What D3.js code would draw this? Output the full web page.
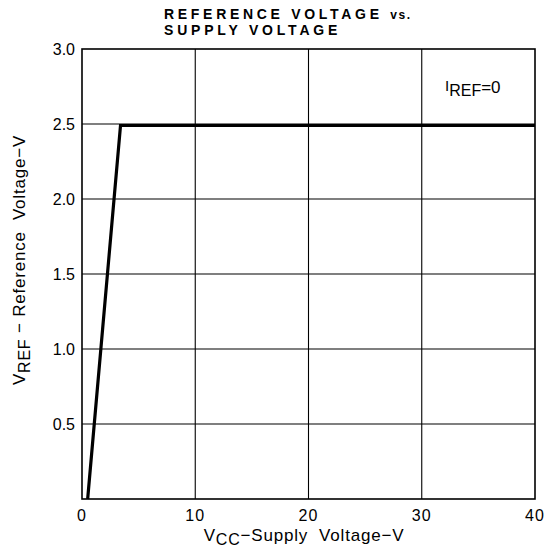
<!DOCTYPE html>
<html>
<head>
<meta charset="utf-8">
<style>
  * { margin: 0; padding: 0; }
  body { background: #fff; font-family: "Liberation Sans", Arial, sans-serif; }
  svg { display: block; }
</style>
</head>
<body>
<div id="chart"></div>
<script src="https://cdn.jsdelivr.net/npm/d3@7"></script>
<script>
// curve: VREF vs VCC, IREF = 0
const vcc = [0.5, 3.4, 10, 20, 30, 40];
const vref = [0, 2.49, 2.49, 2.49, 2.49, 2.49];
const xTicks = [0, 10, 20, 30, 40];
const yTicks = [0.5, 1.0, 1.5, 2.0, 2.5, 3.0];

const width = 552, height = 554;
const margin = { top: 49, right: 17, bottom: 55, left: 82 };

const x = d3.scaleLinear().domain([0, 40]).range([margin.left, width - margin.right]);
const y = d3.scaleLinear().domain([0, 3]).range([height - margin.bottom, margin.top]);

const svg = d3.select('#chart').append('svg')
  .attr('width', width).attr('height', height);

// grid
svg.append('g')
  .selectAll('line')
  .data(xTicks.slice(1, -1))
  .join('line')
  .attr('x1', d => x(d)).attr('x2', d => x(d))
  .attr('y1', y(0)).attr('y2', y(3))
  .attr('stroke', '#000').attr('stroke-width', 1.1);
svg.append('g')
  .selectAll('line')
  .data(yTicks.slice(0, -1))
  .join('line')
  .attr('x1', x(0)).attr('x2', x(40))
  .attr('y1', d => y(d)).attr('y2', d => y(d))
  .attr('stroke', '#000').attr('stroke-width', 1.1);

// frame
svg.append('rect')
  .attr('x', x(0)).attr('y', y(3))
  .attr('width', x(40) - x(0)).attr('height', y(0) - y(3))
  .attr('fill', 'none').attr('stroke', '#000').attr('stroke-width', 1.6);

// tick labels
svg.append('g').selectAll('text')
  .data(xTicks)
  .join('text')
  .attr('x', d => x(d)).attr('y', y(0) + 22)
  .attr('text-anchor', 'middle')
  .attr('font-size', 16).attr('letter-spacing', 1)
  .text(d => d);
svg.append('g').selectAll('text')
  .data(yTicks)
  .join('text')
  .attr('x', x(0) - 7).attr('y', d => y(d) + 6)
  .attr('text-anchor', 'end')
  .attr('font-size', 16)
  .text(d => d.toFixed(1));

// curve
svg.append('path')
  .datum(vcc.map((v, i) => [v, vref[i]]))
  .attr('fill', 'none').attr('stroke', '#000').attr('stroke-width', 3.2)
  .attr('stroke-linejoin', 'miter')
  .attr('d', d3.line().x(d => x(d[0])).y(d => y(d[1])));

// title
const title = svg.append('text')
  .attr('x', 164).attr('y', 19)
  .attr('font-size', 14).attr('font-weight', 'bold')
  .attr('letter-spacing', 3.7);
title.append('tspan').text('REFERENCE VOLTAGE ');
title.append('tspan').attr('font-size', 12).attr('letter-spacing', 1.5).text('vs.');
svg.append('text')
  .attr('x', 164).attr('y', 35)
  .attr('font-size', 14).attr('font-weight', 'bold')
  .attr('letter-spacing', 3.8)
  .text('SUPPLY VOLTAGE');

// annotation
const ann = svg.append('text')
  .attr('x', 445).attr('y', 93)
  .attr('font-size', 17);
ann.append('tspan').attr('dy', -2).attr('font-size', 15).text('I');
ann.append('tspan').attr('dy', 5).attr('font-size', 16).text('REF');
ann.append('tspan').attr('dy', -3).text('=0');

// axis titles
const xl = svg.append('text')
  .attr('x', 304).attr('y', 541)
  .attr('text-anchor', 'middle')
  .style('white-space', 'pre')
  .attr('font-size', 17).attr('letter-spacing', 0.8);
xl.append('tspan').text('V');
xl.append('tspan').attr('dy', 4).attr('font-size', 16).text('CC');
xl.append('tspan').attr('dy', -4).text('\u2212Supply  Voltage\u2212V');

const yl = svg.append('text')
  .attr('transform', 'translate(25,260) rotate(-90)')
  .attr('text-anchor', 'middle')
  .style('white-space', 'pre')
  .attr('font-size', 17).attr('letter-spacing', 0.8);
yl.append('tspan').text('V');
yl.append('tspan').attr('dy', 5).attr('font-size', 16).text('REF');
yl.append('tspan').attr('dy', -5).text(' \u2212 Reference  Voltage\u2212V');
</script>
</body>
</html>
